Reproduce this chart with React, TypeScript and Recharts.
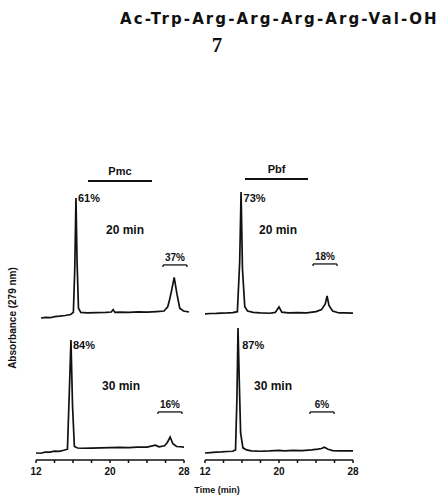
import { LineChart, Line, XAxis, YAxis, ReferenceLine, ReferenceDot } from 'recharts';

// retention time (min) and absorbance (arb. units, 0-100)
const pmc20Time = [12, 12.5, 13, 13.5, 14, 14.6, 15.2, 15.5, 15.65, 15.78, 15.9, 16.05, 16.3, 17, 18, 19, 19.6, 19.8, 20.0, 20.5, 21.5, 22.5, 23.5, 24.5, 25.3, 25.7, 25.9, 26.1, 26.4, 26.7, 27.0, 27.4, 28];
const pmc20Abs = [5, 5.5, 5.2, 6, 6.3, 6.8, 7.5, 9, 40, 90.7, 45, 12, 9, 8.6, 8.8, 9, 9.3, 11, 9, 9.2, 9, 9.4, 9.2, 9.6, 10, 13, 18, 24, 34, 22, 12, 10, 9.3];

const pbf20Time = [12, 12.6, 13.2, 13.8, 14.4, 15, 15.5, 15.75, 15.9, 16.05, 16.3, 16.6, 17.2, 18, 19, 19.6, 20.0, 20.3, 21, 22, 23, 24, 24.6, 25.0, 25.2, 25.4, 25.8, 26.5, 27.2, 28];
const pbf20Abs = [7.9, 8.2, 8.3, 8.5, 8.6, 8.8, 9.5, 45, 95, 40, 13, 10, 9, 8.6, 8.4, 9, 12.9, 9.2, 8.6, 8.8, 8.7, 9.6, 11, 15, 20.7, 14, 10, 8.6, 8.6, 8.5];

const pmc30Time = [12, 12.5, 13, 13.5, 14, 14.5, 15, 15.4, 15.6, 15.78, 15.95, 16.15, 16.5, 17, 18, 19, 20, 21, 22, 23, 24, 24.9, 25.3, 25.9, 26.2, 26.5, 26.8, 27.2, 27.6, 28];
const pmc30Abs = [5.2, 5, 5.8, 5.9, 6.6, 6.4, 7.2, 8, 50, 88.9, 40, 10, 8.9, 8.7, 8.8, 9, 9.1, 9.3, 9.2, 9.5, 9.6, 11, 9.8, 10.5, 13, 17, 12, 10, 9.8, 9.6];

const pbf30Time = [12, 12.6, 13.2, 13.8, 14.4, 15, 15.3, 15.45, 15.57, 15.7, 15.85, 16.1, 16.5, 17, 18, 19, 20, 20.6, 21.5, 22.5, 23.5, 24.2, 24.6, 24.9, 25.3, 25.8, 26.5, 27.2, 28];
const pbf30Abs = [5.2, 5.5, 5.8, 6, 6.3, 6.5, 7.5, 45, 97.8, 60, 20, 9, 7.5, 6.8, 6.5, 6.7, 7.2, 6.8, 7.2, 7, 7.5, 8, 8.5, 9.5, 8, 7, 6.8, 6.7, 6.7];

const timeTicks = [12, 14, 16, 18, 20, 22, 24, 26, 28];
const labelledTicks = [12, 20, 28];

const mainPeakPct = ['61%', '73%', '84%', '87%'];
const minorPeakPct = ['37%', '18%', '16%', '6%'];
const cleavageTimes = ['20 min', '20 min', '30 min', '30 min'];
const groupNames = ['Pmc', 'Pbf'];

const FONT = '"Liberation Sans", Arial, sans-serif';
const INK = '#111';

type PanelProps = {
  time: number[];
  abs: number[];
  left: number;
  top: number;
  height: number;
  margin: { top: number; left: number; right: number; bottom: number };
  showAxis: boolean;
  mainPct: string;
  mainAt: [number, number];
  minorPct: string;
  bracket: [number, number, number];
  duration: string;
  durationAt: [number, number];
  header?: string;
  headerBar?: [number, number, number];
};

const Panel = (p: PanelProps) => {
  const data = p.time.map((t, i) => ({ t, a: p.abs[i] }));
  const [b0, b1, bl] = p.bracket;
  return (
    <div style={{ position: 'absolute', left: p.left, top: p.top }}>
      <LineChart width={220} height={p.height} data={data} margin={p.margin}>
        <XAxis
          type="number"
          dataKey="t"
          domain={[12, 28]}
          ticks={timeTicks}
          hide={!p.showAxis}
          height={30}
          interval={0}
          tickSize={3}
          tickMargin={5}
          stroke={INK}
          strokeWidth={1.5}
          tickFormatter={(v: number) => (labelledTicks.includes(v) ? String(v) : '')}
          tick={{ fill: INK, fontSize: 10, fontWeight: 'bold', fontFamily: FONT }}
        />
        <YAxis hide domain={[0, 100]} />
        <Line type="linear" dataKey="a" stroke={INK} strokeWidth={1.7} dot={false} isAnimationActive={false} />
        <ReferenceLine segment={[{ x: b0, y: bl }, { x: b1, y: bl }]} stroke={INK} strokeWidth={1.3} ifOverflow="visible"
          label={{ value: p.minorPct, position: 'top', offset: 4, fill: INK, fontSize: 10, fontWeight: 'bold', fontFamily: FONT }} />
        <ReferenceLine segment={[{ x: b0, y: bl }, { x: b0, y: bl - 1.5 }]} stroke={INK} strokeWidth={1.3} ifOverflow="visible" />
        <ReferenceLine segment={[{ x: b1, y: bl }, { x: b1, y: bl - 1.5 }]} stroke={INK} strokeWidth={1.3} ifOverflow="visible" />
        <ReferenceDot x={p.mainAt[0]} y={p.mainAt[1]} r={0} fill="none" stroke="none" ifOverflow="visible"
          label={{ value: p.mainPct, position: 'right', offset: 2, fill: INK, fontSize: 11, fontWeight: 'bold', fontFamily: FONT }} />
        <ReferenceDot x={p.durationAt[0]} y={p.durationAt[1]} r={0} fill="none" stroke="none" ifOverflow="visible"
          label={{ value: p.duration, position: 'center', fill: INK, fontSize: 12, fontWeight: 'bold', fontFamily: FONT }} />
        {p.header && p.headerBar && (
          <ReferenceLine
            segment={[{ x: p.headerBar[0], y: p.headerBar[2] }, { x: p.headerBar[1], y: p.headerBar[2] }]}
            stroke={INK} strokeWidth={2} ifOverflow="visible"
            label={{ value: p.header, position: 'top', offset: 6, fill: INK, fontSize: 11, fontWeight: 'bold', fontFamily: FONT }}
          />
        )}
      </LineChart>
    </div>
  );
};

export default function App() {
  return (
    <div style={{ position: 'absolute', left: 0, top: 0, width: 440, height: 495, background: '#fff', fontFamily: FONT }}>
      <div style={{ position: 'absolute', left: 120, top: 10, width: 320, textAlign: 'left', fontWeight: 'bold', fontSize: 15, letterSpacing: 2.1, color: INK, whiteSpace: 'nowrap', fontFamily: '"DejaVu Sans", sans-serif' }}>
        Ac-Trp-Arg-Arg-Arg-Arg-Val-OH
      </div>
      <div style={{ position: 'absolute', left: 197, top: 33, width: 40, textAlign: 'center', fontWeight: 'bold', fontSize: 21, color: INK, fontFamily: '"Liberation Serif", serif' }}>
        7
      </div>

      <Panel time={pmc20Time} abs={pmc20Abs} left={0} top={140} height={185}
        margin={{ top: 45, left: 41, right: 31, bottom: 0 }} showAxis={false}
        mainPct={mainPeakPct[0]} mainAt={[15.78, 90.7]}
        minorPct={minorPeakPct[0]} bracket={[25.19, 27.78, 42.9]}
        duration={cleavageTimes[0]} durationAt={[21.08, 67.9]}
        header={groupNames[0]} headerBar={[17.08, 24.0, 102.9]} />
      <Panel time={pbf20Time} abs={pbf20Abs} left={200} top={140} height={185}
        margin={{ top: 45, left: 5, right: 67, bottom: 0 }} showAxis={false}
        mainPct={mainPeakPct[1]} mainAt={[15.95, 90.7]}
        minorPct={minorPeakPct[1]} bracket={[23.68, 26.27, 43.6]}
        duration={cleavageTimes[1]} durationAt={[19.89, 67.9]}
        header={groupNames[1]} headerBar={[16.32, 23.14, 104.3]} />
      <Panel time={pmc30Time} abs={pmc30Abs} left={0} top={300} height={195}
        margin={{ top: 25, left: 36, right: 36, bottom: 5 }} showAxis
        mainPct={mainPeakPct[2]} mainAt={[15.78, 85.2]}
        minorPct={minorPeakPct[2]} bracket={[25.19, 27.78, 35.6]}
        duration={cleavageTimes[2]} durationAt={[21.19, 54.8]} />
      <Panel time={pbf30Time} abs={pbf30Abs} left={200} top={300} height={195}
        margin={{ top: 25, left: 5, right: 67, bottom: 5 }} showAxis
        mainPct={mainPeakPct[3]} mainAt={[15.8, 85.2]}
        minorPct={minorPeakPct[3]} bracket={[23.35, 25.95, 35.6]}
        duration={cleavageTimes[3]} durationAt={[19.35, 54.8]} />

      <div style={{ position: 'absolute', left: 12, top: 318, transform: 'translate(-50%, -50%) rotate(-90deg)', fontWeight: 'bold', fontSize: 10, color: INK, whiteSpace: 'nowrap' }}>
        Absorbance (279 nm)
      </div>
      <div style={{ position: 'absolute', left: 217, top: 490, transform: 'translate(-50%, -50%)', fontWeight: 'bold', fontSize: 9, color: INK, whiteSpace: 'nowrap' }}>
        Time (min)
      </div>
    </div>
  );
}
